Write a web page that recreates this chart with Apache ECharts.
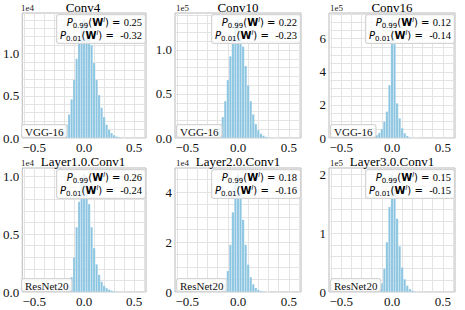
<!DOCTYPE html>
<html><head><meta charset="utf-8">
<script src="https://cdn.jsdelivr.net/npm/echarts@6/dist/echarts.min.js"></script>
<style>html,body{margin:0;padding:0;background:#fff}#c{width:465px;height:310px}</style>
</head><body><div id="c"></div>
<script>
// ---------- data ----------
const titles = ['Conv4', 'Conv10', 'Conv16', 'Layer1.0.Conv1', 'Layer2.0.Conv1', 'Layer3.0.Conv1'];
const netNames = ['VGG-16', 'VGG-16', 'VGG-16', 'ResNet20', 'ResNet20', 'ResNet20'];
const scaleLabels = ['1e4', '1e5', '1e5', '1e4', '1e4', '1e5'];
const p99 = ['0.25', '0.22', '0.12', '0.26', '0.18', '0.15'];
const p01 = ['-0.32', '-0.23', '-0.14', '-0.24', '-0.16', '-0.15'];

const xTickLabels = [-0.5, 0.0, 0.5];
const xGridValues = [-0.6, -0.5, -0.4, -0.3, -0.2, -0.1, 0.0, 0.1, 0.2, 0.3, 0.4, 0.5, 0.6];

const yTickLabels1 = [0.0, 0.5, 1.0];
const yTickLabels2 = [0.0, 0.5, 1.0];
const yTickLabels3 = [0, 2, 4, 6];
const yTickLabels4 = [0.0, 0.5, 1.0];
const yTickLabels5 = [0, 2, 4];
const yTickLabels6 = [0, 1, 2];

const yGrid1 = [0, 0.1, 0.2, 0.3, 0.4, 0.5, 0.6, 0.7, 0.8, 0.9, 1.0, 1.1, 1.2, 1.3, 1.4];
const yGrid2 = [0, 0.1, 0.2, 0.3, 0.4, 0.5, 0.6, 0.7, 0.8, 0.9, 1.0, 1.1, 1.2, 1.3, 1.4];
const yGrid3 = [0, 0.5, 1, 1.5, 2, 2.5, 3, 3.5, 4, 4.5, 5, 5.5, 6, 6.5, 7, 7.5];
const yGrid4 = [0, 0.1, 0.2, 0.3, 0.4, 0.5, 0.6, 0.7, 0.8, 0.9, 1.0];
const yGrid5 = [0, 0.5, 1, 1.5, 2, 2.5, 3, 3.5, 4, 4.5];
const yGrid6 = [0, 0.2, 0.4, 0.6, 0.8, 1.0, 1.2, 1.4, 1.6, 1.8, 2.0];

const yMax = [1.48, 1.42, 7.55, 1.07, 4.97, 2.11];

const binsWide = [-0.4, -0.375, -0.35, -0.325, -0.3, -0.275, -0.25, -0.225, -0.2, -0.175, -0.15, -0.125, -0.1, -0.075, -0.05, -0.025,
  0, 0.025, 0.05, 0.075, 0.1, 0.125, 0.15, 0.175, 0.2, 0.225, 0.25, 0.275, 0.3, 0.325, 0.35, 0.375, 0.4];
const binsMid = [-0.3, -0.275, -0.25, -0.225, -0.2, -0.175, -0.15, -0.125, -0.1, -0.075, -0.05, -0.025,
  0, 0.025, 0.05, 0.075, 0.1, 0.125, 0.15, 0.175, 0.2, 0.225, 0.25, 0.275, 0.3];
const binsNarrow = [-0.25, -0.225, -0.2, -0.175, -0.15, -0.125, -0.1, -0.075, -0.05, -0.025,
  0, 0.025, 0.05, 0.075, 0.1, 0.125, 0.15, 0.175, 0.2, 0.225, 0.25];

// counts (in units of the scale label)
const conv4 = [0.002, 0.003, 0.004, 0.006, 0.01, 0.016, 0.028, 0.05, 0.09, 0.16, 0.28, 0.46, 0.69, 0.94, 1.17, 1.33,
  1.41, 1.38, 1.27, 1.10, 0.89, 0.69, 0.51, 0.36, 0.25, 0.16, 0.10, 0.06, 0.035, 0.02, 0.012, 0.007, 0.004];
const conv10 = [0.001, 0.001, 0.002, 0.003, 0.005, 0.009, 0.016, 0.03, 0.06, 0.12, 0.24, 0.42, 0.66, 0.93, 1.16, 1.32,
  1.35, 1.23, 1.04, 0.82, 0.60, 0.42, 0.27, 0.16, 0.09, 0.05, 0.028, 0.015, 0.008, 0.004, 0.002, 0.001, 0.001];
const conv16 = [0.005, 0.01, 0.03, 0.08, 0.18, 0.32, 0.55, 1.0, 1.6, 3.2,
  7.15, 5.7, 2.1, 1.2, 0.6, 0.3, 0.13, 0.05, 0.02, 0.01, 0.005];
const layer1 = [0.001, 0.001, 0.002, 0.003, 0.004, 0.006, 0.008, 0.012, 0.018, 0.03, 0.06, 0.13, 0.30, 0.56, 0.78, 0.96,
  1.02, 0.93, 0.76, 0.56, 0.38, 0.24, 0.15, 0.09, 0.055, 0.035, 0.022, 0.014, 0.009, 0.006, 0.004, 0.002, 0.001];
const layer2 = [0.003, 0.005, 0.01, 0.02, 0.04, 0.08, 0.16, 0.35, 0.85, 1.9, 3.2, 4.4,
  4.72, 4.0, 2.9, 1.9, 1.1, 0.6, 0.32, 0.17, 0.09, 0.05, 0.025, 0.012, 0.006];
const layer3 = [0.002, 0.004, 0.008, 0.015, 0.03, 0.06, 0.15, 0.40, 0.85, 1.45,
  2.0, 1.75, 1.25, 0.78, 0.42, 0.22, 0.11, 0.055, 0.027, 0.013, 0.006];

const panelBins = [binsWide, binsWide, binsNarrow, binsWide, binsMid, binsNarrow];
const panelCounts = [conv4, conv10, conv16, layer1, layer2, layer3];
const panelYTicks = [yTickLabels1, yTickLabels2, yTickLabels3, yTickLabels4, yTickLabels5, yTickLabels6];
const panelYGrid = [yGrid1, yGrid2, yGrid3, yGrid4, yGrid5, yGrid6];
const yDecimals = [1, 1, 0, 1, 0, 0];

// ---------- layout ----------
const colLeft = [20, 175, 329];
const plotW = 126;
const rowTop = [13, 168];
const rowH = [125, 124];
const titleY = [7, 161];

const SERIF = '"Liberation Serif", "Times New Roman", serif';
const SANS = '"DejaVu Sans", sans-serif';
const GRID_COLOR = '#e3e3e3';
const FRAME_COLOR = '#b8b8b8';
const BAR_COLOR = '#8bc5e1';

const grids = [], xAxes = [], yAxes = [], series = [], graphics = [];
for (let i = 0; i < 6; i++) {
  const c = i % 3, r = Math.floor(i / 3);
  const left = colLeft[c], top = rowTop[r], h = rowH[r];
  grids.push({left: left, top: top, width: plotW, height: h, show: true,
    borderColor: FRAME_COLOR, borderWidth: 1, backgroundColor: '#fff', containLabel: false});
  xAxes.push({
    gridIndex: i, type: 'value', min: -0.62, max: 0.62,
    axisLine: {show: false},
    axisTick: {show: false, customValues: xGridValues},
    splitLine: {show: true, lineStyle: {color: GRID_COLOR, width: 1}},
    axisLabel: {customValues: xTickLabels, margin: 3, fontFamily: SERIF, fontSize: 13, color: '#111', lineHeight: 13,
      formatter: v => (v < 0 ? '\u2212' : '') + Math.abs(v).toFixed(1)}
  });
  const dec = yDecimals[i];
  yAxes.push({
    gridIndex: i, type: 'value', min: 0, max: yMax[i],
    axisLine: {show: false},
    axisTick: {show: false, customValues: panelYGrid[i]},
    splitLine: {show: true, lineStyle: {color: GRID_COLOR, width: 1}},
    axisLabel: {customValues: panelYTicks[i], margin: 3, fontFamily: SERIF, fontSize: 13, color: '#111',
      formatter: v => Number(v).toFixed(dec)}
  });
  const bins = panelBins[i], counts = panelCounts[i];
  series.push({
    type: 'bar', xAxisIndex: i, yAxisIndex: i, barWidth: '100%', silent: true,
    itemStyle: {color: BAR_COLOR, borderColor: 'rgba(255,255,255,0.6)', borderWidth: 0.3},
    data: bins.map((b, j) => [b, counts[j]])
  });

  // title
  graphics.push({type: 'text', z: 100, x: left + plotW / 2, y: titleY[r],
    style: {text: titles[i], align: 'center', verticalAlign: 'middle', fill: '#000', font: '13px ' + SERIF}});
  // offset label
  graphics.push({type: 'text', z: 100, x: left + 1, y: top - 1,
    style: {text: scaleLabels[i], align: 'left', verticalAlign: 'bottom', fill: '#222', font: '9px ' + SERIF}});
  // percentile box
  const rich = {
    p: {fontFamily: SANS, fontStyle: 'italic', fontSize: 10, lineHeight: 13, verticalAlign: 'middle', fill: '#000'},
    sub: {fontFamily: SANS, fontSize: 7, lineHeight: 7, verticalAlign: 'bottom', fill: '#000'},
    n: {fontFamily: SANS, fontSize: 10, lineHeight: 13, verticalAlign: 'middle', fill: '#000'},
    w: {fontFamily: SANS, fontWeight: 'bold', fontSize: 10, lineHeight: 13, verticalAlign: 'middle', fill: '#000'},
    sup: {fontFamily: SANS, fontStyle: 'italic', fontSize: 6.5, lineHeight: 7, verticalAlign: 'top', fill: '#000'},
    v: {fontFamily: SERIF, fontSize: 10.5, lineHeight: 13, verticalAlign: 'middle', fill: '#000'}
  };
  const line1 = '{p|P}{sub|0.99}{n|(}{w|W}{sup|l}{n|) = }{v|' + p99[i] + '}';
  const line2 = '{p|P}{sub|0.01}{n|(}{w|W}{sup|l}{n|) =  }{v|' + p01[i] + '}';
  graphics.push({type: 'text', z: 100, x: left + plotW - 1, y: top + 2,
    style: {text: line1 + '\n' + line2, rich: rich, align: 'right', verticalAlign: 'top',
      backgroundColor: 'rgba(255,255,255,0.78)', borderColor: '#d4d4d4', borderWidth: 1, borderRadius: 2,
      padding: [1, 3, 1, 3]}});
  // network label
  graphics.push({type: 'text', z: 100, x: left + 2, y: top + h - 1,
    style: {text: netNames[i], align: 'left', verticalAlign: 'bottom', fill: '#111', font: '11px ' + SERIF,
      backgroundColor: 'rgba(255,255,255,0.78)', borderColor: '#d4d4d4', borderWidth: 1, borderRadius: 2,
      padding: [1, 3, 0, 3]}});
}

const chart = echarts.init(document.getElementById('c'), null, {renderer: 'svg', width: 465, height: 310});
chart.setOption({
  animation: false,
  backgroundColor: '#fff',
  grid: grids, xAxis: xAxes, yAxis: yAxes, series: series, graphic: graphics
});
</script></body></html>
